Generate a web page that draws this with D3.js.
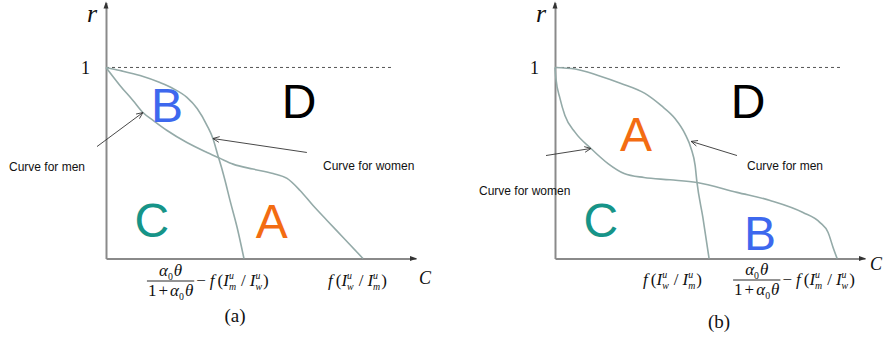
<!DOCTYPE html>
<html>
<head>
<meta charset="utf-8">
<script src="https://cdn.jsdelivr.net/npm/d3@7"></script>
<style>
  body { margin: 0; background: #fff; }
  svg { display: block; }
</style>
</head>
<body>
<svg id="chart" width="888" height="343"></svg>
<script>
// ---- Data: threshold curves as [C, r] pairs ----
// Panel (a)
const menCurveA = [[0, 1], [0.045, 0.906], [0.087, 0.827], [0.119, 0.764], [0.152, 0.723], [0.197, 0.670],
  [0.261, 0.607], [0.326, 0.555], [0.368, 0.524], [0.410, 0.494], [0.474, 0.468], [0.539, 0.445],
  [0.584, 0.419], [0.626, 0.356], [0.668, 0.277], [0.713, 0.199], [0.765, 0.110], [0.829, 0]];
const womenCurveA = [[0, 1], [0.045, 0.984], [0.110, 0.958], [0.174, 0.921], [0.216, 0.890], [0.261, 0.843],
  [0.294, 0.785], [0.326, 0.696], [0.345, 0.628], [0.361, 0.539], [0.372, 0.480], [0.384, 0.408],
  [0.400, 0.304], [0.423, 0.162], [0.445, 0]];
// Panel (b)
const menCurveB = [[0, 1], [0.065, 0.992], [0.139, 0.958], [0.213, 0.916], [0.290, 0.864], [0.342, 0.801],
  [0.387, 0.733], [0.419, 0.654], [0.439, 0.576], [0.452, 0.487], [0.458, 0.398], [0.477, 0.215], [0.497, 0]];
const womenCurveB = [[0, 1], [0.003, 0.942], [0.016, 0.838], [0.032, 0.749], [0.065, 0.660], [0.116, 0.576],
  [0.171, 0.497], [0.223, 0.445], [0.287, 0.424], [0.371, 0.412], [0.458, 0.398], [0.587, 0.346],
  [0.694, 0.304], [0.800, 0.241], [0.855, 0.188], [0.881, 0.136], [0.897, 0.058], [0.910, 0]];

// Region letters: [letter, C, r]
const regionsA = [["B", 0.197, 0.712], ["D", 0.623, 0.733], ["C", 0.148, 0.115], ["A", 0.535, 0.105]];
const regionsB = [["A", 0.261, 0.565], ["D", 0.623, 0.733], ["C", 0.148, 0.115], ["B", 0.661, 0.042]];

// Curve call-outs: [text, tail C, tail r, head C, head r]
const calloutsA = [["Curve for men", -0.029, 0.586, 0.119, 0.764], ["Curve for women", 0.648, 0.555, 0.345, 0.628]];
const calloutsB = [["Curve for men", 0.587, 0.539, 0.439, 0.613], ["Curve for women", -0.029, 0.539, 0.116, 0.576]];

// Axis values
const rTicks = [1];
const rMax = 1.34;
const cMax = 1.0;

// ---- Styling ----
const serif = "'Liberation Serif', 'Times New Roman', serif";
const sans = "'Liberation Sans', Arial, sans-serif";
const regionColor = { A: "#f36c12", B: "#3d68ee", C: "#169488", D: "#000000" };
const curveColor = "#94aaa8";
const axisColor = "#8a8a8a";

const svg = d3.select("#chart");

// Lay out a run of math pieces; returns the group and its width
function mathRun(parent, pieces, size) {
  const g = parent.append("g");
  let cx = 0;
  const put = (txt, x, y, fs, italic) => {
    const t = g.append("text").attr("x", x).attr("y", y)
      .attr("font-family", serif).attr("font-size", fs)
      .attr("font-style", italic ? "italic" : "normal")
      .attr("fill", "#111").text(txt);
    return t.node().getComputedTextLength();
  };
  pieces.forEach(p => {
    if (p.gap !== undefined) { cx += p.gap; return; }
    if (p.sup !== undefined || p.sub !== undefined) {
      let w = 0;
      if (p.sup !== undefined) w = Math.max(w, put(p.sup, cx, -size * 0.42, size * 0.58, true));
      if (p.sub !== undefined) w = Math.max(w, put(p.sub, cx, size * 0.22, size * 0.58, p.subUpright ? false : true));
      cx += w + 1;
      return;
    }
    cx += put(p.t, cx, 0, size, p.i);
  });
  return { g, width: cx };
}

const fTerm = (a, b) => [
  { t: "f", i: true }, { gap: 3 }, { t: "(" }, { t: "I", i: true }, { sup: "u", sub: a },
  { gap: 4 }, { t: "/" }, { gap: 4 }, { t: "I", i: true }, { sup: "u", sub: b }, { t: ")" }
];
const numerPieces = [{ t: "\u03b1", i: true }, { sub: "0", subUpright: true }, { t: "\u03b8", i: true }];
const denomPieces = [{ t: "1" }, { gap: 2 }, { t: "+" }, { gap: 2 }, { t: "\u03b1", i: true }, { sub: "0", subUpright: true }, { t: "\u03b8", i: true }];

// f(I_w/I_m) style label, left edge at x, baseline y
function drawFLabel(parent, a, b, x, y) {
  const r = mathRun(parent, fTerm(a, b), 17);
  r.g.attr("transform", `translate(${x},${y})`);
  return r.width;
}

// fraction α0θ/(1+α0θ) followed by − f(I_m/I_w); left edge x, fraction bar at y
function drawFracLabel(parent, x, y) {
  const num = mathRun(parent, numerPieces, 17);
  const den = mathRun(parent, denomPieces, 17);
  const w = Math.max(num.width, den.width) + 2;
  num.g.attr("transform", `translate(${x + (w - num.width) / 2},${y - 5})`);
  den.g.attr("transform", `translate(${x + (w - den.width) / 2},${y + 15})`);
  parent.append("line").attr("x1", x).attr("x2", x + w).attr("y1", y).attr("y2", y)
    .attr("stroke", "#111").attr("stroke-width", 0.9);
  const rest = mathRun(parent, [{ t: "\u2212" }, { gap: 4 }].concat(fTerm("m", "w")), 17);
  rest.g.attr("transform", `translate(${x + w + 2},${y + 5})`);
}

function drawPanel(opt) {
  const g = svg.append("g");
  const x = d3.scaleLinear().domain([0, cMax]).range([opt.x0, opt.x0 + 310]);
  const y = d3.scaleLinear().domain([0, rMax]).range([258.5, 2.5]);

  // Dashed r = 1 reference
  g.append("line").attr("x1", x(0)).attr("x2", x(opt.dashEnd)).attr("y1", y(1)).attr("y2", y(1))
    .attr("stroke", "#555").attr("stroke-width", 1).attr("stroke-dasharray", "3,3");

  // Axes
  const yAxis = g.append("g").attr("transform", `translate(${x(0)},0)`)
    .call(d3.axisLeft(y).tickValues(rTicks).tickSize(0).tickPadding(16).tickFormat(d3.format("d")).tickSizeOuter(0));
  yAxis.select(".domain").attr("stroke", axisColor).attr("stroke-width", 2);
  yAxis.selectAll(".tick text").attr("font-family", serif).attr("font-size", 18).attr("fill", "#111").attr("dy", "0.34em");

  const xAxis = g.append("g").attr("transform", `translate(0,${y(0)})`)
    .call(d3.axisBottom(x).tickValues([]).tickSizeOuter(0));
  xAxis.select(".domain").attr("stroke", axisColor).attr("stroke-width", 2);

  // Arrowheads on the axes
  g.append("path").attr("d", `M${x(0) - 2.5},${y(rMax) + 6}L${x(0)},${y(rMax) - 1}L${x(0) + 2.5},${y(rMax) + 6}Z`).attr("fill", "#333");
  g.append("path").attr("d", `M${x(cMax) - 6},${y(0) - 2.5}L${x(cMax) + 1},${y(0)}L${x(cMax) - 6},${y(0) + 2.5}Z`).attr("fill", "#333");

  // Axis titles
  g.append("text").attr("x", x(0) - 19).attr("y", 22).attr("font-family", serif).attr("font-style", "italic")
    .attr("font-size", 26).attr("fill", "#111").text("r");
  g.append("text").attr("x", x(cMax) + opt.cDx).attr("y", y(0) + opt.cDy).attr("font-family", serif).attr("font-style", "italic")
    .attr("font-size", 18).attr("fill", "#111").text("C");

  // Curves
  const line = d3.line().x(d => x(d[0])).y(d => y(d[1])).curve(d3.curveMonotoneX);
  [opt.men, opt.women].forEach(c => {
    g.append("path").datum(c).attr("d", line).attr("fill", "none")
      .attr("stroke", curveColor).attr("stroke-width", 1.6);
  });

  // Region letters
  g.selectAll(".region").data(opt.regions).join("text").attr("class", "region")
    .attr("x", d => x(d[1])).attr("y", d => y(d[2])).attr("text-anchor", "middle")
    .attr("font-family", sans).attr("font-size", 48).attr("fill", d => regionColor[d[0]]).text(d => d[0]);

  // Call-outs with open arrowheads
  opt.callouts.forEach((d, i) => {
    const x1 = x(d[1]), y1 = y(d[2]), x2 = x(d[3]), y2 = y(d[4]);
    const ang = Math.atan2(y2 - y1, x2 - x1);
    const L = 7, spread = 0.42;
    g.append("line").attr("x1", x1).attr("y1", y1).attr("x2", x2).attr("y2", y2)
      .attr("stroke", "#333").attr("stroke-width", 0.9);
    g.append("path")
      .attr("d", `M${x2 - L * Math.cos(ang - spread)},${y2 - L * Math.sin(ang - spread)}L${x2},${y2}L${x2 - L * Math.cos(ang + spread)},${y2 - L * Math.sin(ang + spread)}`)
      .attr("fill", "none").attr("stroke", "#333").attr("stroke-width", 0.9);
    const lp = opt.labelPos[i];
    g.append("text").attr("x", lp[0]).attr("y", lp[1]).attr("font-family", sans).attr("font-size", 12)
      .attr("fill", "#111").text(d[0]);
  });

  // Intercept labels on the C axis
  opt.intercepts(g, x, y);

  // Panel caption
  g.append("text").attr("x", opt.capX).attr("y", opt.capY).attr("text-anchor", "middle")
    .attr("font-family", serif).attr("font-size", 19).attr("fill", "#111").text(opt.caption);
}

drawPanel({
  x0: 106, dashEnd: 0.926, men: menCurveA, women: womenCurveA, regions: regionsA, callouts: calloutsA,
  labelPos: [[9, 171], [323, 170]], cDx: 3, cDy: 25, caption: "(a)", capX: 235, capY: 322,
  intercepts: (g, x, y) => {
    drawFracLabel(g, x(womenCurveA[womenCurveA.length - 1][0]) - 97, 281);
    drawFLabel(g, "w", "m", x(menCurveA[menCurveA.length - 1][0]) - 35, 286);
  }
});

drawPanel({
  x0: 555, dashEnd: 0.926, men: menCurveB, women: womenCurveB, regions: regionsB, callouts: calloutsB,
  labelPos: [[747, 170], [479, 195]], cDx: 5, cDy: 11, caption: "(b)", capX: 719, capY: 328,
  intercepts: (g, x, y) => {
    drawFLabel(g, "w", "m", x(menCurveB[menCurveB.length - 1][0]) - 66, 285);
    drawFracLabel(g, x(womenCurveB[womenCurveB.length - 1][0]) - 104, 280);
  }
});
</script>
</body>
</html>
